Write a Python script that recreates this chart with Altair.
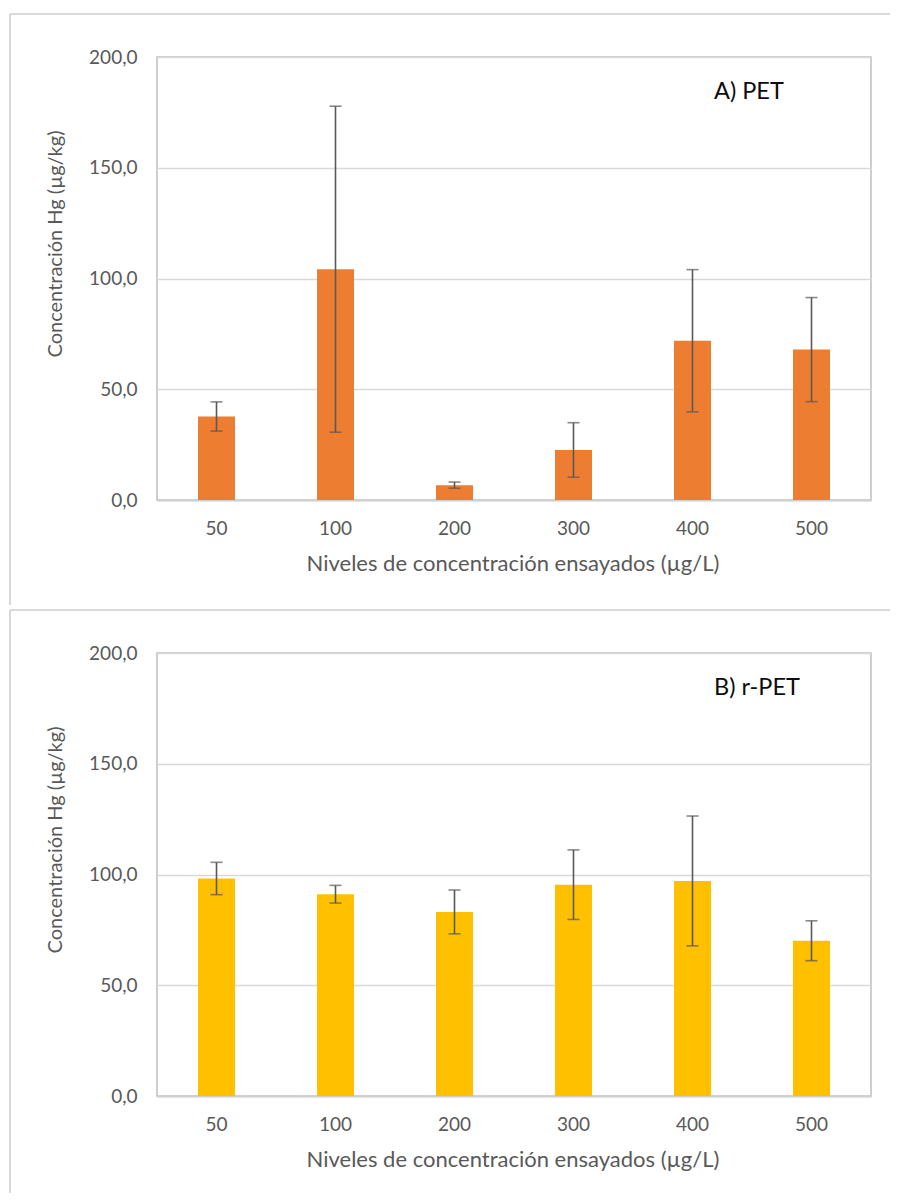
import altair as alt
import pandas as pd

levels = ["50", "100", "200", "300", "400", "500"]
pet_mean = [37.7, 104.2, 6.7, 22.6, 71.9, 67.9]
pet_err = [6.6, 73.6, 1.4, 12.3, 32.1, 23.5]
rpet_mean = [98.2, 91.1, 83.1, 95.4, 97.1, 70.1]
rpet_err = [7.3, 4.0, 9.9, 15.7, 29.3, 9.0]

y_ticks = [0, 50, 100, 150, 200]
x_title = "Niveles de concentración ensayados (µg/L)"
y_title = "Concentración Hg (µg/kg)"

FONT = "Lato"
GREY = "#595959"
W, H = 714, 443

x_axis = alt.Axis(title=None, labelAngle=0, ticks=False,
                  domainColor="#d0d0d0", domainWidth=2,
                  labelPadding=34, labelBaseline="alphabetic", grid=False)
y_axis = alt.Axis(title=None, values=y_ticks, ticks=False,
                  domain=False, grid=True, gridColor="#d9d9d9",
                  gridWidth=1.3, labelPadding=20,
                  labelExpr="replace(format(datum.value, '.1f'), '.', ',')")
xs = alt.Scale(domain=levels, paddingInner=0, paddingOuter=0)
ys = alt.Scale(domain=[0, 200], nice=False)


def X():
    return alt.X("level:N", sort=levels, scale=xs, axis=x_axis, title=None)


def Y(field):
    return alt.Y(field, scale=ys, axis=y_axis, title=None)


def panel(means, errs, color, label, frame_len):
    df = pd.DataFrame({
        "level": levels,
        "mean": means,
        "low": [m - e for m, e in zip(means, errs)],
        "high": [m + e for m, e in zip(means, errs)],
    })
    base = alt.Chart(df)
    bars = base.mark_bar(size=37, color=color).encode(x=X(), y=Y("mean:Q"))
    rule = base.mark_rule(color=GREY, strokeWidth=1.6).encode(
        x=X(), y=Y("low:Q"), y2="high:Q")
    tick_lo = base.mark_tick(color=GREY, size=12, thickness=1.6).encode(
        x=X(), y=Y("low:Q"))
    tick_hi = base.mark_tick(color=GREY, size=12, thickness=1.6).encode(
        x=X(), y=Y("high:Q"))
    txt = alt.Chart(pd.DataFrame({"t": [label], "xt": [x_title], "yt": [y_title]}))
    note = txt.mark_text(font=FONT, fontSize=23.5, color="#0d0d0d",
                         align="left", baseline="alphabetic").encode(
        x=alt.value(557), y=alt.value(42), text="t:N")
    xlab = txt.mark_text(font=FONT, fontSize=22, color=GREY,
                         align="center", baseline="alphabetic").encode(
        x=alt.value(W / 2 - 1), y=alt.value(H + 71), text="xt:N")
    ylab = txt.mark_text(font=FONT, fontSize=20, color=GREY, angle=270,
                         align="center", baseline="middle").encode(
        x=alt.value(-101), y=alt.value(187), text="yt:N")
    frame_top = txt.mark_rule(color="#d9d9d9", strokeWidth=2).encode(
        x=alt.value(-147), x2=alt.value(733), y=alt.value(-43))
    frame_left = txt.mark_rule(color="#d9d9d9", strokeWidth=2).encode(
        x=alt.value(-147), y=alt.value(-43), y2=alt.value(frame_len))
    return alt.layer(bars, rule, tick_lo, tick_hi, note, xlab, ylab,
                     frame_top, frame_left).properties(width=W, height=H)


top = panel(pet_mean, pet_err, "#ED7D31", "A) PET", 548)
bottom = panel(rpet_mean, rpet_err, "#FFC000", "B) r-PET", 540)

chart = alt.vconcat(top, bottom, spacing=1).properties(
    padding={"left": 0, "top": 4, "right": 0, "bottom": 0}
).configure_view(
    stroke="#bfbfbf", strokeWidth=1.5
).configure_axis(
    labelFont=FONT, labelFontSize=19, labelColor=GREY,
)

chart.save("out.html", embed_options={"renderer": "svg", "actions": False})
